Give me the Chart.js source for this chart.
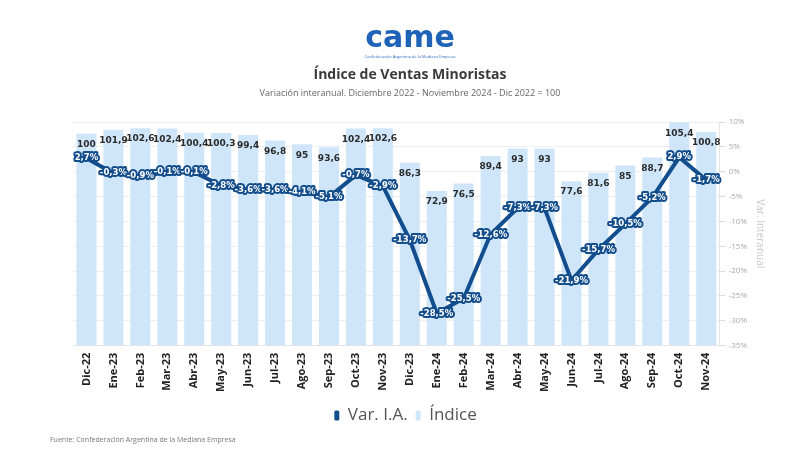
<!DOCTYPE html>
<html>
<head>
<meta charset="utf-8">
<script src="https://cdn.jsdelivr.net/npm/chart.js@4/dist/chart.umd.min.js"></script>
<style>
  html, body { margin: 0; padding: 0; background: #fff; }
  #wrap { width: 800px; height: 464px; position: relative; }
</style>
</head>
<body>
<div id="wrap"><canvas id="ventasChart" width="800" height="464"></canvas></div>
<script>
const months = ['Dic-22', 'Ene-23', 'Feb-23', 'Mar-23', 'Abr-23', 'May-23', 'Jun-23', 'Jul-23', 'Ago-23', 'Sep-23', 'Oct-23', 'Nov-23',
    'Dic-23', 'Ene-24', 'Feb-24', 'Mar-24', 'Abr-24', 'May-24', 'Jun-24', 'Jul-24', 'Ago-24', 'Sep-24', 'Oct-24', 'Nov-24'];
const indice = [100, 101.9, 102.6, 102.4, 100.4, 100.3, 99.4, 96.8, 95, 93.6, 102.4, 102.6,
    86.3, 72.9, 76.5, 89.4, 93, 93, 77.6, 81.6, 85, 88.7, 105.4, 100.8];
const varIA = [2.7, -0.3, -0.9, -0.1, -0.1, -2.8, -3.6, -3.6, -4.1, -5.1, -0.7, -2.9,
    -13.7, -28.5, -25.5, -12.6, -7.3, -7.3, -21.9, -15.7, -10.5, -5.2, 2.9, -1.7];
const varMin = -35;
const varMax = 10;
const varStep = 5;

const fmt = v => String(v).replace('.', ',');

// header, footer and value labels
const decorations = {
    id: 'decorations',
    beforeDraw(chart) {
        const ctx = chart.ctx;
        ctx.save();
        ctx.textAlign = 'center';
        ctx.textBaseline = 'middle';
        // logo
        ctx.fillStyle = '#1f63b8';
        ctx.font = 'bold 30px "DejaVu Sans"';
        ctx.fillText('came', 410, 39);
        ctx.font = '4px "Open Sans"';
        ctx.fillText('Confederación Argentina de la Mediana Empresa', 410, 57);
        // titles
        ctx.fillStyle = '#3a3a3a';
        ctx.font = 'bold 14px "Open Sans"';
        ctx.fillText('Índice de Ventas Minoristas', 410, 75);
        ctx.fillStyle = '#666';
        ctx.font = '9px "Open Sans"';
        ctx.fillText('Variación interanual. Diciembre 2022 - Noviembre 2024 - Dic 2022 = 100', 410, 93);
        // source
        ctx.textAlign = 'left';
        ctx.fillStyle = '#777';
        ctx.font = '7px "Open Sans"';
        ctx.fillText('Fuente: Confederación Argentina de la Mediana Empresa', 50, 440);
        ctx.restore();
    },
    afterDatasetsDraw(chart) {
        const ctx = chart.ctx;
        ctx.save();
        ctx.textAlign = 'center';
        ctx.textBaseline = 'middle';

        const barMeta = chart.getDatasetMeta(1);
        ctx.font = 'bold 9px "DejaVu Sans"';
        ctx.fillStyle = '#2b2b2b';
        barMeta.data.forEach((el, i) => {
            ctx.fillText(fmt(indice[i]), el.x, el.y + 11);
        });

        const lineMeta = chart.getDatasetMeta(0);
        ctx.font = 'bold 8.5px "DejaVu Sans"';
        ctx.lineJoin = 'round';
        ctx.lineWidth = 4;
        ctx.strokeStyle = '#134d8b';
        ctx.fillStyle = '#ffffff';
        lineMeta.data.forEach((el, i) => {
            const t = fmt(varIA[i]) + '%';
            ctx.strokeText(t, el.x, el.y);
            ctx.fillText(t, el.x, el.y);
        });
        ctx.restore();
    }
};

new Chart(document.getElementById('ventasChart'), {
    data: {
        labels: months,
        datasets: [{
            type: 'line',
            label: 'Var. I.A.',
            data: varIA,
            yAxisID: 'y1',
            borderColor: '#124e8e',
            backgroundColor: '#124e8e',
            borderWidth: 4,
            pointRadius: 0,
            tension: 0,
            order: 0
        }, {
            type: 'bar',
            label: 'Índice',
            data: indice,
            yAxisID: 'y',
            backgroundColor: '#cfe6fa',
            categoryPercentage: 0.8,
            barPercentage: 0.93,
            order: 1
        }]
    },
    options: {
        responsive: false,
        animation: false,
        layout: { padding: { top: 122, left: 37, right: 26, bottom: 30 } },
        plugins: {
            tooltip: { enabled: false },
            legend: {
                position: 'bottom',
                labels: {
                    font: { family: 'Open Sans', size: 17 },
                    color: '#555',
                    boxWidth: 5,
                    boxHeight: 10,
                    padding: 8,
                    useBorderRadius: true,
                    borderRadius: 1.5,
                    generateLabels(chart) {
                        return chart.data.datasets.map((ds, i) => ({
                            text: ds.label,
                            fillStyle: i === 0 ? '#124e8e' : '#cfe6fa',
                            strokeStyle: 'transparent',
                            lineWidth: 0,
                            borderRadius: 1.5,
                            datasetIndex: i,
                            fontColor: '#555'
                        }));
                    }
                }
            }
        },
        scales: {
            x: {
                grid: { display: false, drawTicks: false },
                border: { color: '#e4e4e4' },
                ticks: {
                    color: '#222',
                    font: { family: 'Open Sans', size: 11, weight: 'bold' },
                    minRotation: 90,
                    maxRotation: 90,
                    padding: 7
                }
            },
            y: {
                // hidden index axis, kept as a fixed-width spacer on the left
                min: 0,
                max: 105.5,
                ticks: { display: false },
                grid: { display: false, drawTicks: false },
                border: { display: false },
                afterFit(scale) { scale.width = 36; }
            },
            y1: {
                position: 'right',
                min: varMin,
                max: varMax,
                ticks: {
                    stepSize: varStep,
                    color: '#aaa',
                    font: { family: 'Open Sans', size: 8 },
                    callback: v => v + '%'
                },
                grid: { color: '#eeeeee', tickLength: 6, tickColor: '#dddddd' },
                border: { color: '#e4e4e4', dash: [] },
                title: {
                    display: true,
                    text: 'Var. Interanual',
                    color: '#c8c8c8',
                    font: { family: 'Open Sans', size: 10 },
                    padding: { top: 8 }
                }
            }
        }
    },
    plugins: [decorations]
});
</script>
</body>
</html>
